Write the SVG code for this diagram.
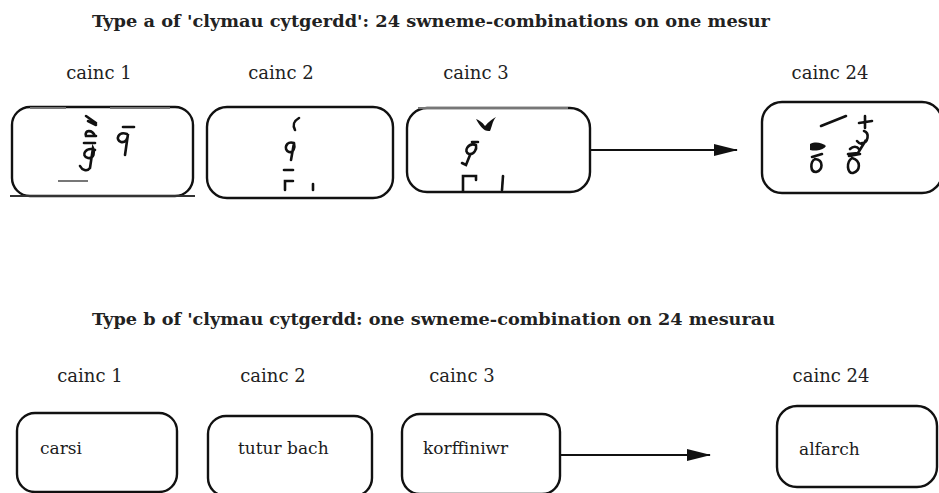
<svg xmlns="http://www.w3.org/2000/svg" width="939" height="493" viewBox="0 0 939 493">
  <style>
    .title { font-family: "DejaVu Serif", "Liberation Serif", serif; font-weight: bold; font-size: 17.5px; fill: #222; }
    .label { font-family: "DejaVu Serif", "Liberation Serif", serif; font-size: 18px; fill: #222; }
    .inner { font-family: "DejaVu Serif", "Liberation Serif", serif; font-size: 17px; fill: #1a1a1a; }
    .box { fill: none; stroke: #111; stroke-width: 2.4; }
    .conn { fill: none; stroke: #111; stroke-width: 1.8; }
    .mark { fill: none; stroke: #111; stroke-width: 2.6; stroke-linecap: round; }
    .blot { fill: #111; stroke: none; }
    .faint { stroke: #777; stroke-width: 2; fill: none; }
  </style>
  <defs>
    <marker id="arrow" viewBox="0 0 24 14" refX="23" refY="7" markerWidth="24" markerHeight="14" markerUnits="userSpaceOnUse" orient="auto">
      <path d="M0,1 L24,7 L0,13 Z" fill="#111"/>
    </marker>
  </defs>
  <rect width="939" height="493" fill="#fff"/>

  <!-- section a -->
  <text class="title" x="92" y="27" textLength="678" lengthAdjust="spacingAndGlyphs">Type a of 'clymau cytgerdd': 24 swneme-combinations on one mesur</text>
  <text class="label" x="99" y="79" text-anchor="middle">cainc 1</text>
  <text class="label" x="281" y="79" text-anchor="middle">cainc 2</text>
  <text class="label" x="476" y="79" text-anchor="middle">cainc 3</text>
  <text class="label" x="830" y="79" text-anchor="middle">cainc 24</text>

  <g id="a1">
    <rect class="box" x="12" y="107" width="181" height="89" rx="18"/>
    <line class="faint" x1="30" y1="108" x2="66" y2="108"/>
    <line class="faint" x1="110" y1="108" x2="170" y2="108"/>
    <line x1="70" y1="107" x2="108" y2="107" stroke="#111" stroke-width="2"/>
    <line x1="10" y1="196" x2="195" y2="196" stroke="#333" stroke-width="2"/>
    <path class="mark" d="M86,116 L96,123 M88,121 L96,125"/>
    <path class="mark" d="M95,136 C92,129 84,130 86,136 L96,136"/>
    <line class="mark" x1="84" y1="143" x2="95" y2="143"/>
    <path class="mark" d="M95,150 C86,146 80,156 88,158 C94,159 95,152 93,148 L90,168 C87,172 82,170 80,166"/>
    <line class="mark" x1="123" y1="127" x2="134" y2="127"/>
    <path class="mark" d="M127,134 C118,131 115,140 121,142 C126,143 128,138 128,134 L125,155"/>
    <line class="faint" x1="58" y1="181" x2="88" y2="181"/>
  </g>

  <g id="a2">
    <rect class="box" x="207" y="107" width="186" height="91" rx="20"/>
    <path class="mark" d="M299,118 C294,121 292,124 295,130"/>
    <path class="mark" d="M294,143 C286,140 283,150 289,152 C294,153 295,147 294,143 L291,160"/>
    <line class="mark" x1="284" y1="170" x2="293" y2="170"/>
    <path class="mark" d="M285,190 L285,181 L293,181"/>
    <line class="mark" x1="313" y1="184" x2="313" y2="190"/>
  </g>

  <g id="a3">
    <rect class="box" x="407" y="108" width="183" height="84" rx="20"/>
    <line class="faint" x1="418" y1="108" x2="568" y2="108"/>
    <path class="blot" d="M476,119 C480,126 484,132 490,131 C492,127 492,122 496,117 C490,120 487,124 485,126 C482,122 479,120 476,119 Z"/>
    <path class="mark" d="M476,145 C468,142 463,152 469,154 C474,155 477,149 476,145 M472,142 L478,142 M470,155 L466,165 L462,163"/>
    <path class="mark" d="M463,191 L463,176 L476,176 L476,180"/>
    <path class="mark" d="M503,176 L502,190"/>
  </g>

  <g id="a24">
    <rect class="box" x="762" y="102" width="180" height="91" rx="20"/>
    <line class="mark" x1="821" y1="126" x2="846" y2="116"/>
    <path class="mark" d="M865,116 L865,128 M859,123 L872,121"/>
    <path class="mark" d="M864,131 C870,133 868,143 862,143 M857,141 C860,145 864,145 866,140 L858,153 L848,154"/>
    <path class="blot" d="M810,144 C816,141 822,143 826,146 C822,151 815,151 810,150 Z"/>
    <path class="mark" d="M815,159 C810,162 810,172 816,172 C823,170 824,160 815,159 M812,157 L822,154"/>
    <path class="mark" d="M852,158 C846,162 847,174 853,173 C860,171 862,161 852,158 M849,156 L860,154 M850,149 C853,146 857,146 859,149"/>
  </g>

  <!-- section b -->
  <text class="title" x="92" y="325" textLength="683" lengthAdjust="spacingAndGlyphs">Type b of 'clymau cytgerdd: one swneme-combination on 24 mesurau</text>
  <text class="label" x="90" y="382" text-anchor="middle">cainc 1</text>
  <text class="label" x="273" y="382" text-anchor="middle">cainc 2</text>
  <text class="label" x="462" y="382" text-anchor="middle">cainc 3</text>
  <text class="label" x="831" y="382" text-anchor="middle">cainc 24</text>

  <g id="b1">
    <rect class="box" x="17" y="413" width="160" height="79" rx="18"/>
    <text class="inner" x="40" y="454">carsi</text>
  </g>
  <g id="b2">
    <rect class="box" x="208" y="416" width="164" height="80" rx="18"/>
    <text class="inner" x="238" y="454">tutur bach</text>
  </g>
  <g id="b3">
    <rect class="box" x="402" y="414" width="158" height="80" rx="18"/>
    <text class="inner" x="423" y="454">korffiniwr</text>
  </g>
  <g id="b24">
    <rect class="box" x="777" y="406" width="160" height="81" rx="20"/>
    <text class="inner" x="799" y="455">alfarch</text>
  </g>

  <!-- connectors -->
  <g id="connectors">
    <line class="conn" x1="590" y1="150" x2="737" y2="150" marker-end="url(#arrow)"/>
    <line class="conn" x1="560" y1="455" x2="710" y2="455" marker-end="url(#arrow)"/>
  </g>
</svg>
